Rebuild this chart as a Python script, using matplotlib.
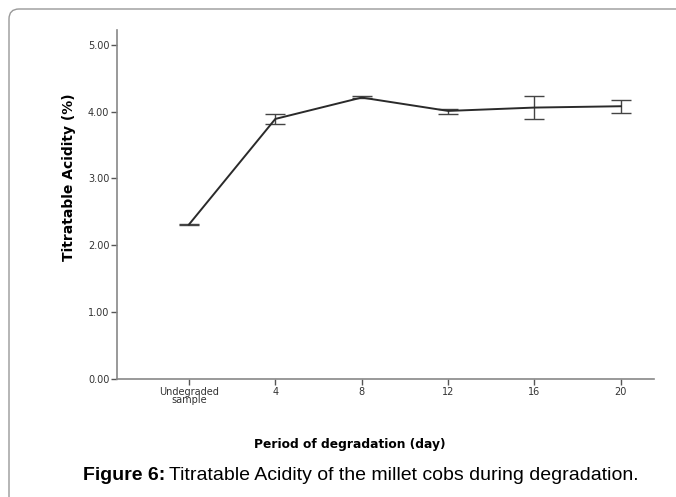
import matplotlib
matplotlib.use("Agg")
import matplotlib.pyplot as plt
from matplotlib.patches import FancyBboxPatch


periods = ["Undegraded\nsample", "4", "8", "12", "16", "20"]
acidity = [2.31, 3.89, 4.21, 4.01, 4.06, 4.08]
err_low = [2.30, 3.81, 4.20, 3.97, 3.89, 3.98]
err_high = [2.32, 3.97, 4.24, 4.04, 4.23, 4.18]
y_ticks = [0, 1, 2, 3, 4, 5]


def main():
    plt.rcParams["font.family"] = ["DejaVu Sans"]

    fig = plt.figure(figsize=(6.76, 4.97), dpi=100)
    ax = fig.add_axes([0.173, 0.2374, 0.794, 0.7022])

    x = list(range(len(periods)))
    lower = [a - lo for a, lo in zip(acidity, err_low)]
    upper = [hi - a for a, hi in zip(acidity, err_high)]

    ax.errorbar(x, acidity, yerr=[lower, upper], color="#2a2a2a", lw=1.4,
                ecolor="#444444", elinewidth=1.0, capsize=7.5, capthick=1.0)

    ax.set_xlim(-0.833, 5.38)
    ax.set_ylim(0, 5.22)
    ax.set_xticks(x)
    ax.set_xticklabels(periods, fontsize=7, color="#333333", linespacing=0.85)
    ax.set_yticks(y_ticks)
    ax.set_yticklabels([f"{v:.2f}" for v in y_ticks], fontsize=7, color="#333333")
    ax.tick_params(direction="out", length=4, width=1, color="#555555", pad=1.5)

    for side in ["top", "right"]:
        ax.spines[side].set_visible(False)
    for side in ["left", "bottom"]:
        ax.spines[side].set_color("#888888")
        ax.spines[side].set_linewidth(1.2)

    ax.set_ylabel("Titratable Acidity (%)", fontsize=10, fontweight="bold",
                  va="center")
    ax.yaxis.set_label_coords(-0.089, 0.579)
    fig.text(0.518, 0.098, "Period of degradation (day)", fontsize=8.8,
             fontweight="bold", ha="center", va="baseline")

    # caption: bold label followed by normal text
    renderer = fig.canvas.get_renderer()
    t1 = fig.text(0.123, 0.034, "Figure 6:", fontsize=14, fontweight="bold",
                  va="baseline", family="Liberation Sans")
    bb = t1.get_window_extent(renderer)
    fig.text(bb.x1 / fig.bbox.width + 0.006, 0.034,
             "Titratable Acidity of the millet cobs during degradation.",
             fontsize=14, va="baseline", family="Liberation Sans")

    frame = FancyBboxPatch((9, -30), 720, 497 - 9 + 30,
                           boxstyle="round,pad=0,rounding_size=10",
                           transform=None, fill=False, ec="#999999", lw=1)
    fig.patches.append(frame)

    fig.savefig("out.png", dpi=100)


if __name__ == "__main__":
    main()
